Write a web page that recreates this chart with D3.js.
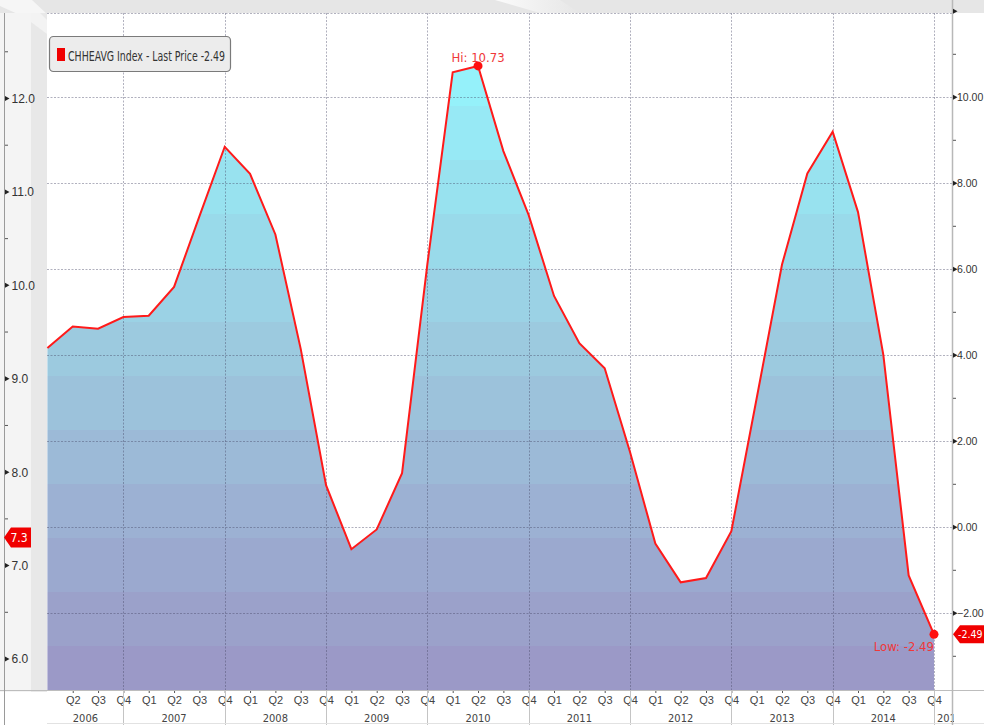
<!DOCTYPE html>
<html>
<head>
<meta charset="utf-8">
<script src="https://cdn.jsdelivr.net/npm/d3@7/dist/d3.min.js"></script>
<style>
  html, body { margin: 0; padding: 0; background: #fff; }
  svg { display: block; font-family: "Liberation Sans Narrow", "DejaVu Sans Condensed", "Liberation Sans", sans-serif; }
</style>
</head>
<body>
<svg id="chart" width="984" height="725"></svg>
<script>
// ---- data -------------------------------------------------------------
const seriesName = "CHHEAVG Index - Last Price";
const years = [2006, 2007, 2008, 2009, 2010, 2011, 2012, 2013, 2014];
const quarterNames = ["Q1", "Q2", "Q3", "Q4"];
// quarterly readings, Q1 2006 .. Q4 2014
const values = [
  4.17, 4.67, 4.62, 4.89,
  4.92, 5.59, 7.23, 8.85,
  8.22, 6.81, 4.15, 0.98,
  -0.51, -0.05, 1.26, 6.12,
  10.58, 10.73, 8.75, 7.26,
  5.38, 4.28, 3.70, 1.75,
  -0.38, -1.28, -1.18, -0.09,
  3.00, 6.11, 8.23, 9.20,
  7.33, 4.01, -1.12, -2.49
];
const rightTicks = [-2, 0, 2, 4, 6, 8, 10, 12];
const rightLabelled = [-2, 0, 2, 4, 6, 8, 10];
const rightMinorTicks = [-3, -1, 1, 3, 5, 7, 9, 11];
const leftTicks = [6, 7, 8, 9, 10, 11, 12];
const leftMinorTicks = [6.5, 7.5, 8.5, 9.5, 10.5, 11.5, 12.5];
const leftMarkerValue = 7.3;

// ---- layout -------------------------------------------------------------
const W = 984, H = 725;
const plot = { left: 47, right: 952, top: 11, bottom: 690 };

const svg = d3.select("#chart");
const defs = svg.append("defs");

const x = d3.scaleLinear().domain([0, values.length - 1]).range([47.4, 934]);
const yR = d3.scaleLinear().domain([-2, 10]).range([613.3, 97.3]);
const yL = d3.scaleLinear().domain([6, 12]).range([659, 98.5]);

const hiIndex = values.indexOf(d3.max(values));
const loIndex = values.indexOf(d3.min(values));
const lastPrice = values[values.length - 1];

// ---- backgrounds ----------------------------------------------------------
svg.append("rect").attr("x", 0).attr("y", 0).attr("width", W).attr("height", H).attr("fill", "#fff");
// header band
svg.append("rect").attr("x", 0).attr("y", 0).attr("width", W).attr("height", plot.top + 2).attr("fill", "#e6e6e6");
svg.append("polygon").attr("points", "0,0 32,0 47,14 47,30 31,20 0,6").attr("fill", "#f6f6f6");
const sheen = defs.append("linearGradient").attr("id", "sheen")
  .attr("x1", 0).attr("x2", 1).attr("y1", 0).attr("y2", 0);
sheen.append("stop").attr("offset", 0).attr("stop-color", "#fbfbfb");
sheen.append("stop").attr("offset", 1).attr("stop-color", "#e6e6e6");
svg.append("polygon").attr("points", "495,0 560,0 580,13 540,13").attr("fill", "url(#sheen)");

// left axis panel
svg.append("rect").attr("x", 0).attr("y", plot.top + 2).attr("width", 31).attr("height", plot.bottom - plot.top).attr("fill", "#f4f4f4");
svg.append("rect").attr("x", 31).attr("y", plot.top + 2).attr("width", plot.left - 31).attr("height", plot.bottom - plot.top).attr("fill", "#e8e8e8");
svg.append("polygon").attr("points", "31,13 40,13 47,20 47,34 31,22").attr("fill", "#f3f3f3");

// plot area
svg.append("rect").attr("x", plot.left).attr("y", plot.top + 2).attr("width", plot.right - plot.left).attr("height", plot.bottom - plot.top - 2).attr("fill", "#fff");

// ---- banded fill gradient -------------------------------------------------
const colorAt = d3.scaleLinear().domain([60, 350, 690])
  .range(["#95f4fc", "#9ccadf", "#9b96c5"]).interpolate(d3.interpolateRgb).clamp(true);
const grad = defs.append("linearGradient").attr("id", "areaFill")
  .attr("gradientUnits", "userSpaceOnUse")
  .attr("x1", 0).attr("x2", 0).attr("y1", plot.top).attr("y2", plot.bottom);
const bandH = 54;
let edges = [plot.top];
for (let b = 52 - bandH; b < plot.bottom; b += bandH) if (b > plot.top) edges.push(b);
edges.push(plot.bottom);
const span = plot.bottom - plot.top;
for (let i = 0; i < edges.length - 1; i++) {
  const c = colorAt((edges[i] + edges[i + 1]) / 2);
  grad.append("stop").attr("offset", (edges[i] - plot.top) / span).attr("stop-color", c);
  grad.append("stop").attr("offset", (edges[i + 1] - plot.top) / span).attr("stop-color", c);
}

// ---- area and line ----------------------------------------------------------
const area = d3.area().x((d, i) => x(i)).y0(plot.bottom).y1(d => yR(d));
svg.append("path").datum(values).attr("d", area).attr("fill", "url(#areaFill)");

// ---- grid ---------------------------------------------------------------
const grid = svg.append("g").attr("stroke", "rgba(70,70,100,0.42)").attr("stroke-dasharray", "2,1.5").attr("stroke-width", 1);
grid.selectAll("line.h").data(rightTicks).join("line")
  .attr("x1", plot.left).attr("x2", plot.right)
  .attr("y1", d => Math.max(Math.round(yR(d)), plot.top + 2) + 0.5)
  .attr("y2", d => Math.max(Math.round(yR(d)), plot.top + 2) + 0.5);
const yearEnds = d3.range(3, values.length, 4);
grid.selectAll("line.v").data(yearEnds).join("line")
  .attr("x1", d => Math.round(x(d)) + 0.5).attr("x2", d => Math.round(x(d)) + 0.5)
  .attr("y1", plot.top + 2).attr("y2", plot.bottom);

const line = d3.line().x((d, i) => x(i)).y(d => yR(d));
svg.append("path").datum(values).attr("d", line)
  .attr("fill", "none").attr("stroke", "#ff1a1a").attr("stroke-width", 2).attr("stroke-linejoin", "miter");

// ---- high / low markers -----------------------------------------------------
svg.append("circle").attr("cx", x(hiIndex)).attr("cy", yR(values[hiIndex])).attr("r", 4.5).attr("fill", "#ff1010");
svg.append("text").attr("x", x(hiIndex)).attr("y", 62).attr("text-anchor", "middle")
  .attr("font-size", 13).attr("fill", "#f03838").text("Hi: " + values[hiIndex].toFixed(2));
svg.append("circle").attr("cx", x(loIndex)).attr("cy", yR(values[loIndex])).attr("r", 4.5).attr("fill", "#ff1010");
svg.append("text").attr("x", x(loIndex)).attr("y", 651).attr("text-anchor", "end")
  .attr("font-size", 13).attr("fill", "#f03838").text("Low: " + values[loIndex].toFixed(2));

// ---- bottom axis ------------------------------------------------------------
const xAxisG = svg.append("g").attr("transform", `translate(0,${plot.bottom})`);
const clip = defs.append("clipPath").attr("id", "axisClip");
clip.append("rect").attr("x", plot.left).attr("y", plot.bottom).attr("width", plot.right - plot.left + 2).attr("height", H - plot.bottom);
const xAxis = d3.axisBottom(x).tickValues(d3.range(1, values.length))
  .tickSize(3).tickPadding(3).tickFormat(i => quarterNames[i % 4]);
xAxisG.call(xAxis);
xAxisG.select(".domain").remove();
xAxisG.selectAll(".tick line").attr("stroke", "#555");
xAxisG.selectAll(".tick text").attr("font-size", 11).attr("fill", "#444").attr("font-family", null);

// year separators and labels
const yearG = svg.append("g").attr("clip-path", "url(#axisClip)");
yearG.selectAll("line").data(yearEnds).join("line")
  .attr("x1", d => Math.round(x(d)) + 0.5).attr("x2", d => Math.round(x(d)) + 0.5)
  .attr("y1", plot.bottom).attr("y2", H).attr("stroke", "#c4c4c4");
const lastYearEnd = x(values.length - 1);
const yearSpans = years.map((yr, k) => {
  const start = k === 0 ? x(0) : x(4 * k - 1);
  const end = x(4 * k + 3);
  return { yr, x: (start + end) / 2, anchor: "middle" };
});
// the following year starts right at the last Q4 boundary
yearSpans.push({ yr: years[years.length - 1] + 1, x: lastYearEnd + 3, anchor: "start" });
yearG.selectAll("text").data(yearSpans).join("text")
  .attr("x", d => d.x).attr("y", 722).attr("text-anchor", d => d.anchor)
  .attr("font-size", 11).attr("fill", "#444").text(d => d.yr);

svg.append("line").attr("x1", 0).attr("x2", W).attr("y1", plot.bottom + 0.5).attr("y2", plot.bottom + 0.5).attr("stroke", "#bdbdbd");
svg.append("line").attr("x1", plot.left).attr("x2", W).attr("y1", H - 1.5).attr("y2", H - 1.5).attr("stroke", "#e2e2e2");

// ---- right axis -------------------------------------------------------------
const tri = (g, cx, cy) => g.append("path")
  .attr("d", `M${cx},${cy - 2.5}L${cx + 4.5},${cy}L${cx},${cy + 2.5}Z`).attr("fill", "#222");

const rAxisG = svg.append("g").attr("transform", `translate(${plot.right},0)`);
rAxisG.call(d3.axisRight(yR).tickValues(rightLabelled).tickSize(0).tickPadding(5).tickFormat(d3.format(".2f")));
rAxisG.select(".domain").remove();
rAxisG.selectAll(".tick text").attr("font-size", 10.5).attr("fill", "#333").attr("font-family", null);
svg.append("line").attr("x1", plot.right + 0.5).attr("x2", plot.right + 0.5).attr("y1", 0).attr("y2", H)
  .attr("stroke", "#b8b8b8").attr("stroke-width", 1.5);
rightTicks.forEach(v => tri(svg, plot.right + 1, Math.max(yR(v), 10)));
svg.selectAll("line.rminor").data(rightMinorTicks).join("line")
  .attr("x1", plot.right + 1).attr("x2", plot.right + 4)
  .attr("y1", d => yR(d)).attr("y2", d => yR(d)).attr("stroke", "#555");

// last price marker
const lpY = yR(lastPrice);
svg.append("path")
  .attr("d", `M${plot.right + 1},${lpY}L${plot.right + 8},${lpY - 9}L${W},${lpY - 9}L${W},${lpY + 9}L${plot.right + 8},${lpY + 9}Z`)
  .attr("fill", "#f00000");
svg.append("text").attr("x", plot.right + 6).attr("y", lpY + 4).attr("font-size", 10.5).attr("fill", "#fff")
  .text(lastPrice.toFixed(2));

// ---- left axis --------------------------------------------------------------
svg.append("line").attr("x1", 4.5).attr("x2", 4.5).attr("y1", plot.top + 2).attr("y2", H).attr("stroke", "#9a9a9a");
const lAxisG = svg.append("g").attr("transform", "translate(4.5,0)");
lAxisG.call(d3.axisRight(yL).tickValues(leftTicks).tickSize(0).tickPadding(7).tickFormat(d3.format(".1f")));
lAxisG.select(".domain").remove();
lAxisG.selectAll(".tick text").attr("font-size", 12).attr("fill", "#333").attr("font-family", null);
leftTicks.forEach(v => tri(svg, 5, yL(v)));
svg.selectAll("line.lminor").data(leftMinorTicks).join("line")
  .attr("x1", 5).attr("x2", 8).attr("y1", d => yL(d)).attr("y2", d => yL(d)).attr("stroke", "#555");

const lmY = yL(leftMarkerValue);
svg.append("path")
  .attr("d", `M4,${lmY}L11,${lmY - 10}L31,${lmY - 10}L31,${lmY + 10}L11,${lmY + 10}Z`)
  .attr("fill", "#f00000");
svg.append("text").attr("x", 19).attr("y", lmY + 4.5).attr("text-anchor", "middle")
  .attr("font-size", 12).attr("fill", "#fff").text(leftMarkerValue.toFixed(1));

// ---- legend -----------------------------------------------------------------
const leg = svg.append("g");
leg.append("rect").attr("x", 49.5).attr("y", 36.5).attr("width", 181).attr("height", 35).attr("rx", 4)
  .attr("fill", "#ececec").attr("stroke", "#7a7a7a").attr("stroke-width", 1.2);
leg.append("rect").attr("x", 57).attr("y", 48).attr("width", 8).attr("height", 13).attr("fill", "#f00000");
leg.append("text").attr("x", 68).attr("y", 61).attr("font-size", 14).attr("fill", "#333")
  .attr("textLength", 157).attr("lengthAdjust", "spacingAndGlyphs")
  .text(`${seriesName} ${lastPrice.toFixed(2)}`);
</script>
</body>
</html>
